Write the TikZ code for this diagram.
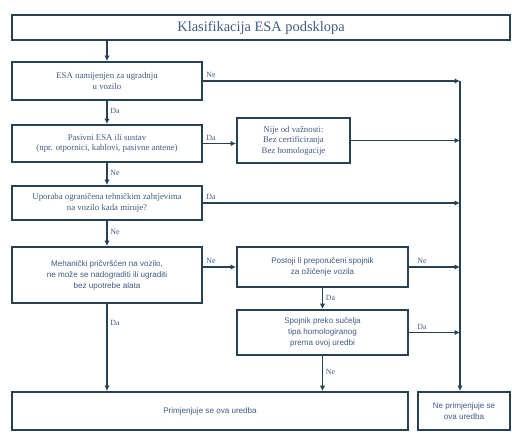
\documentclass[tikz,border=0pt]{standalone}
\usepackage{fontspec}
\setmainfont{Liberation Serif}
\newfontfamily\boxsans{Liberation Sans}
\usepackage{xcolor}
\usetikzlibrary{arrows.meta,positioning,calc}

\definecolor{edgecol}{RGB}{38,66,82}
\definecolor{txtcol}{RGB}{64,92,132}

\begin{document}
\begin{tikzpicture}[
    x=0.2mm, y=-0.2mm,
    >={Latex[length=1.1mm,width=1.1mm]},
    box/.style={
        draw=edgecol,
        line width=1.1pt,
        fill=white,
        align=center,
        inner sep=1pt,
        text=txtcol,
        font=\fontsize{5}{6}\selectfont
    },
    sbox/.style={
        box,
        font=\boxsans\fontsize{4.6}{6.2}\selectfont
    },
    flow/.style={
        ->,
        draw=edgecol,
        line width=0.8pt
    },
    lab/.style={
        font=\fontsize{4.5}{5}\selectfont,
        text=txtcol,
        inner sep=1.5pt
    }
]

\useasboundingbox (0,0) rectangle (512,433);

% Title across the whole width
\node[box, minimum width=99.6mm, minimum height=5mm,
      font=\fontsize{8.2}{9}\selectfont] (title) at (261,27.5)
    {Klasifikacija ESA podsklopa};


% Left column --- the main questions
\node[box, minimum width=38mm, minimum height=7.6mm] (q1) at (107,81)
    {ESA namijenjen za ugradnju\\u vozilo};

\node[box, minimum width=38mm, minimum height=7.4mm] (q2) at (107,143.5)
    {Pasivni ESA ili sustav\\(npr. otpornici, kablovi, pasivne antene)};

\node[box, minimum width=38mm, minimum height=6.8mm] (q3) at (107,203)
    {Uporaba ograničena tehničkim zahtjevima\\na vozilo kada miruje?};

\node[sbox, minimum width=38mm, minimum height=11.2mm] (q4) at (107,275)
    {Mehanički pričvršćen na vozilo,\\ne može se nadograditi ili ugraditi\\bez upotrebe alata};


% Middle column --- side results and connector questions
\node[box, minimum width=22.6mm, minimum height=9mm] (irr) at (293.5,140.5)
    {Nije od važnosti:\\Bez certificiranja\\Bez homologacije};

\node[sbox, minimum width=34.2mm, minimum height=8mm] (q5) at (322.5,267)
    {Postoji li preporučeni spojnik\\za ožičenje vozila};

\node[sbox, minimum width=34.2mm, minimum height=9mm] (q6) at (322.5,332.5)
    {Spojnik preko sučelja\\tipa homologiranog\\prema ovoj uredbi};


% Bottom --- outcomes
\node[sbox, minimum width=79.2mm, minimum height=7.6mm] (app) at (210,411)
    {Primjenjuje se ova uredba};

\node[sbox, minimum width=18.4mm, minimum height=7.6mm] (napp) at (464,411)
    {Ne primjenjuje se\\ova uredba};


% Right bus collecting every "not applicable" branch
\coordinate (b1) at (460,81);

\draw[flow] (b1) -- (b1 |- napp.north);


% Connectors
\draw[flow] (title.south -| q1.north) -- (q1.north);

\draw[flow] (q1.east) -- node[lab, pos=0, above right] {Ne} (b1);

\draw[flow] (q1.south) -- node[lab, right, pos=0.45] {Da} (q2.north);

\draw[flow] (q2.east) -- node[lab, pos=0, above right] {Da} (irr.west |- q2.east);

\draw[flow] (irr.east) -- (b1 |- irr.east);

\draw[flow] (q2.south) -- node[lab, right, pos=0.45] {Ne} (q3.north);

\draw[flow] (q3.east) -- node[lab, pos=0, above right] {Da} (b1 |- q3.east);

\draw[flow] (q3.south) -- node[lab, right, pos=0.45] {Ne} (q4.north);

\draw[flow] (q4.east |- q5.west) -- node[lab, pos=0, above right] {Ne} (q5.west);

\draw[flow] (q5.east) -- node[lab, pos=0.1, above right] {Ne} (b1 |- q5.east);

\draw[flow] (q5.south) -- node[lab, right, pos=0.45] {Da} (q6.north);

\draw[flow] (q6.east) -- node[lab, pos=0.1, above right] {Da} (b1 |- q6.east);

\draw[flow] (q6.south) -- node[lab, right, pos=0.45] {Ne} (q6.south |- app.north);

\draw[flow] (q4.south) -- node[lab, right, pos=0.22] {Da} (q4.south |- app.north);

\end{tikzpicture}
\end{document}
